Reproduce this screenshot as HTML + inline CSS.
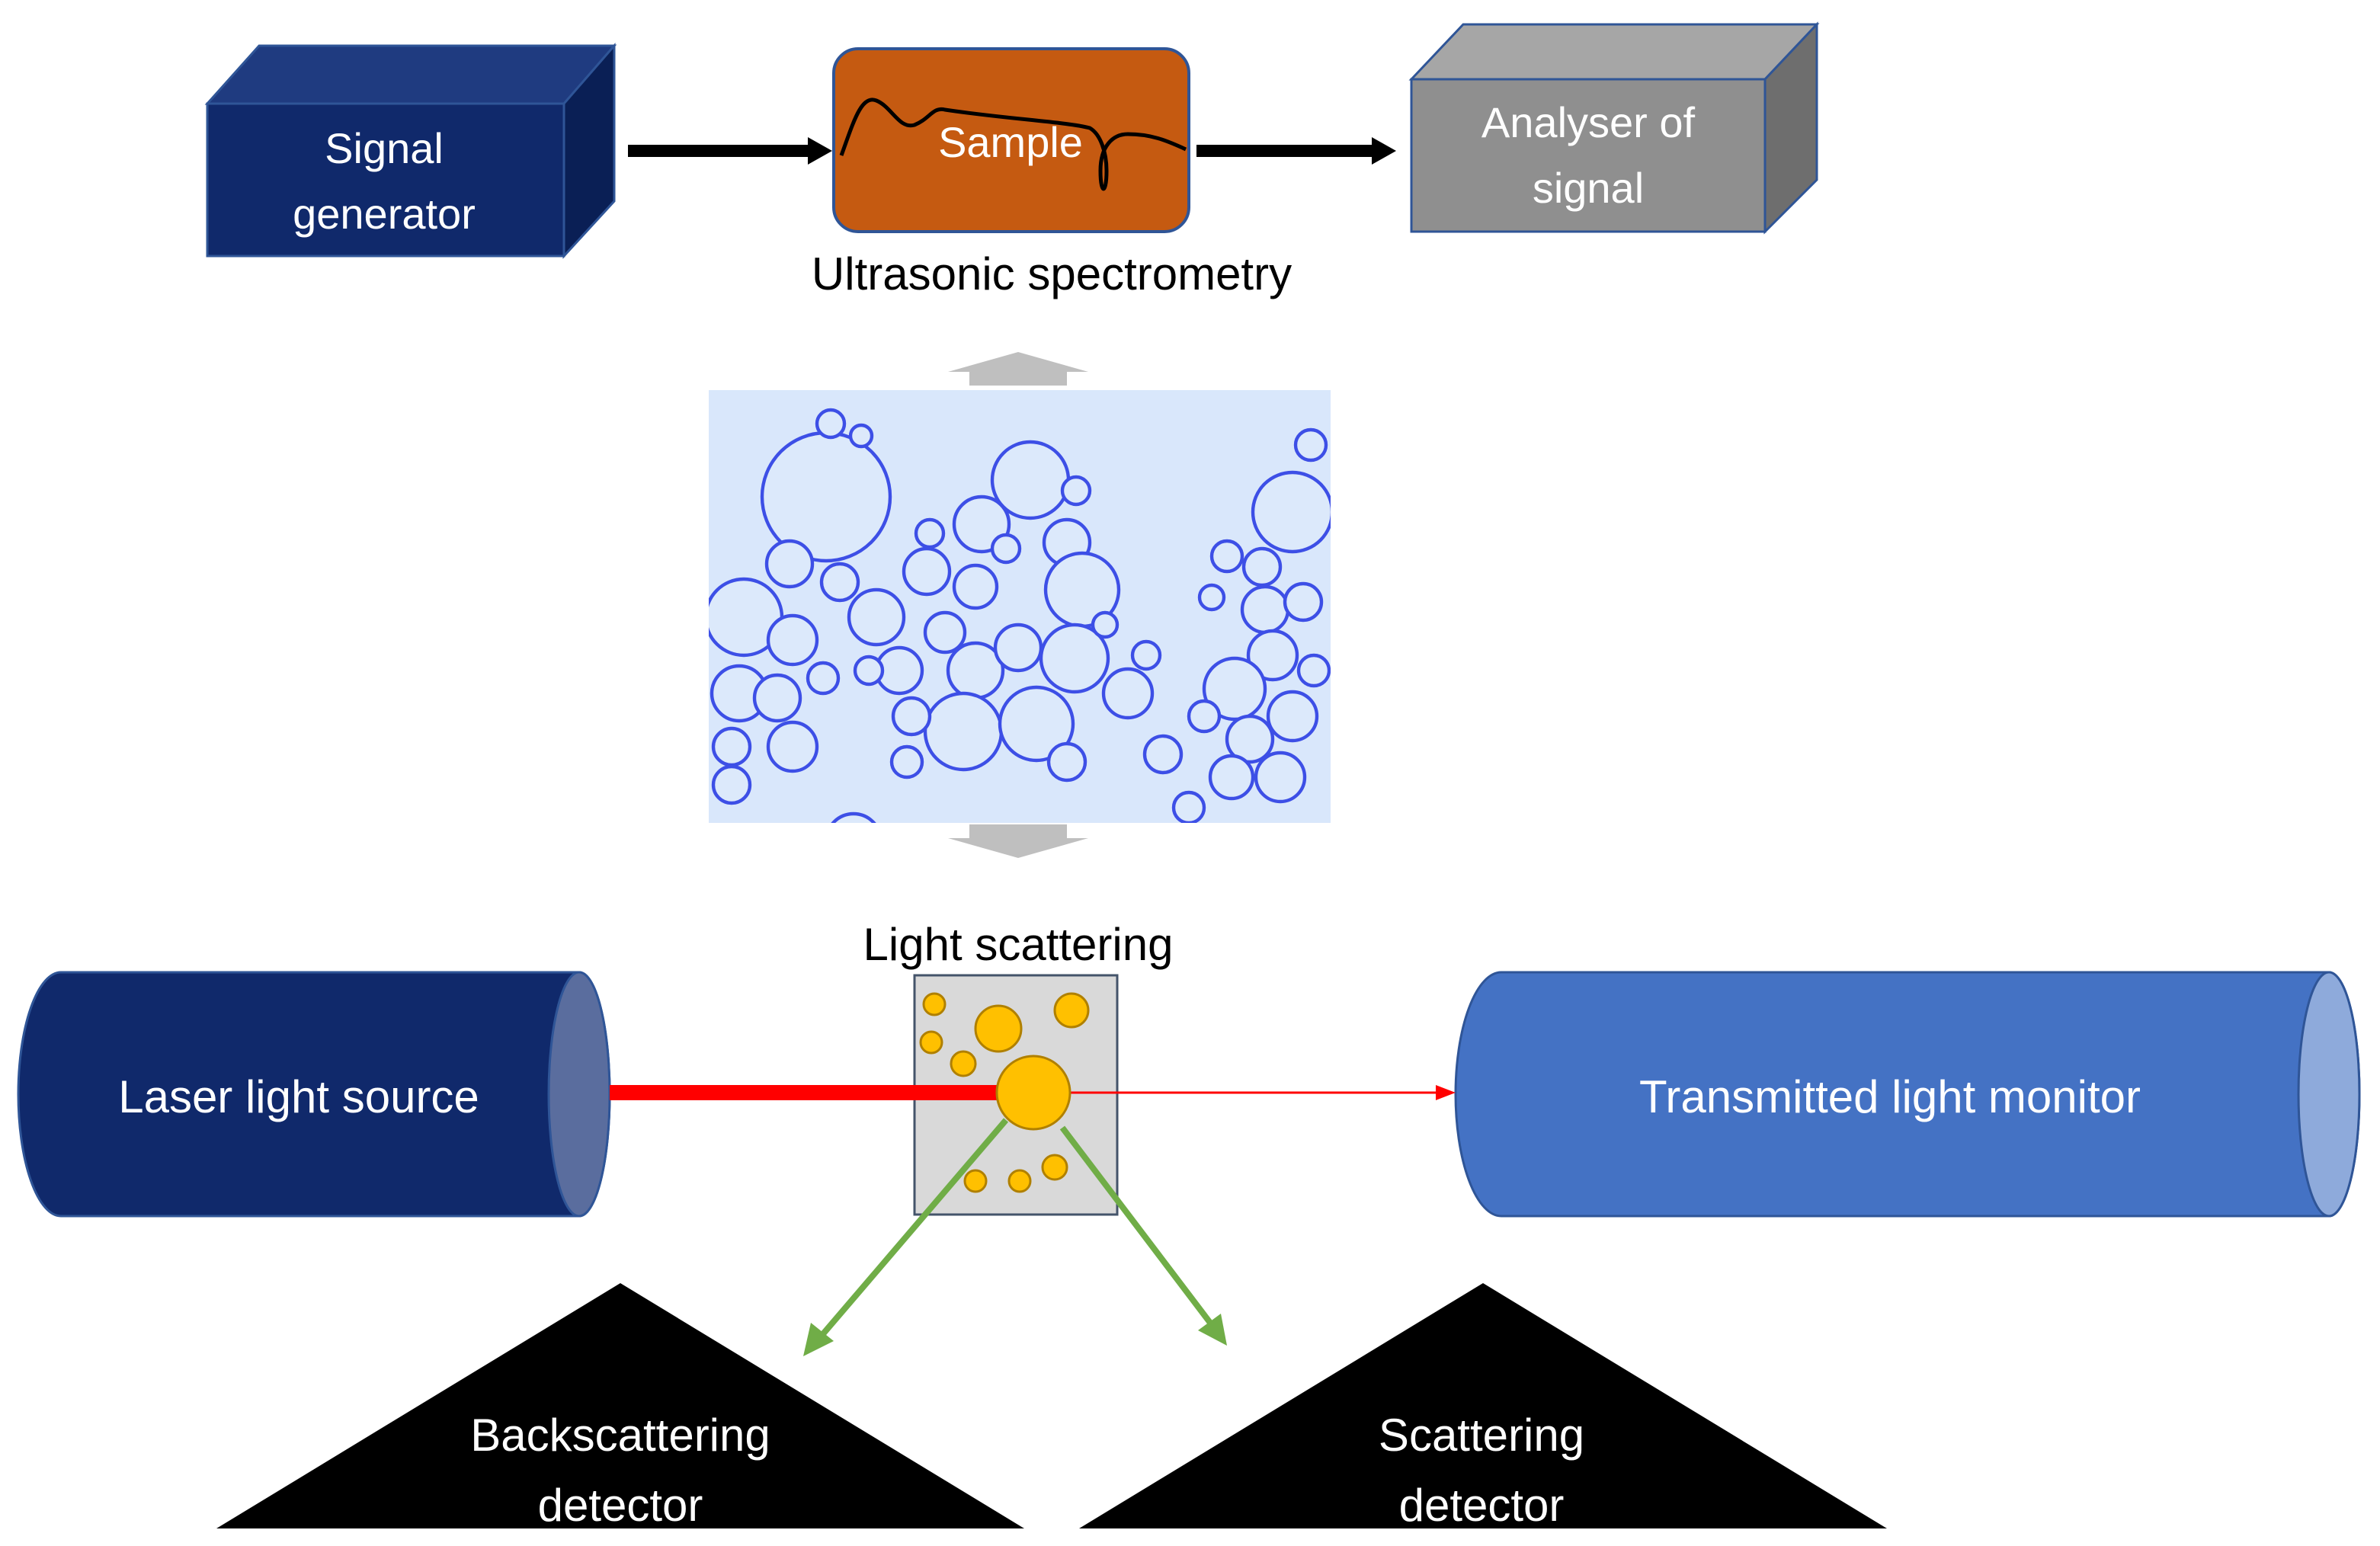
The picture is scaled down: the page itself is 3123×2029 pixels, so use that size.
<!DOCTYPE html>
<html><head><meta charset="utf-8"><style>
html,body{margin:0;padding:0;background:#fff;width:3123px;height:2029px;overflow:hidden}
svg{display:block}
text{font-family:"Liberation Sans",sans-serif}
</style></head><body>
<svg width="3123" height="2029" viewBox="0 0 1561.5 1014.5" xmlns="http://www.w3.org/2000/svg">
<defs>
<clipPath id="img"><rect x="465" y="256" width="408" height="284"/></clipPath>
</defs>
<polygon points="136,68 170,30 403,30 370,68" fill="#1f3b80" stroke="#2f5597" stroke-width="1.5"/>
<polygon points="370,68 403,30 403,132 370,168" fill="#0a1f55" stroke="#2f5597" stroke-width="1.5"/>
<rect x="136" y="68" width="234" height="100" fill="#10296b" stroke="#2f5597" stroke-width="1.5"/>
<text x="252" y="107" font-size="28" fill="#fff" text-anchor="middle">Signal</text>
<text x="252" y="150" font-size="28" fill="#fff" text-anchor="middle">generator</text>
<line x1="412" y1="99" x2="533" y2="99" stroke="#000" stroke-width="8"/>
<polygon points="530,90 546,99 530,108" fill="#000"/>
<line x1="785" y1="99" x2="903" y2="99" stroke="#000" stroke-width="8"/>
<polygon points="900,90 916,99 900,108" fill="#000"/>
<rect x="547" y="32" width="233" height="120" rx="16" fill="#c55a11" stroke="#2f5597" stroke-width="2"/>
<path d="M552,102 C560,80 565,62 575,66 C585,70 590,85 600,82 C610,78 612,70 620,72 C660,78 700,80 715,84 C722,88 726,100 726,112 C726,128 722,128 722,112 C722,96 730,88 740,88 C755,88 765,92 778,98" fill="none" stroke="#000" stroke-width="2.5"/>
<text x="663" y="103" font-size="28" fill="#fff" text-anchor="middle">Sample</text>
<polygon points="926,52 960,16 1192,16 1158,52" fill="#a6a6a6" stroke="#2f5597" stroke-width="1.5"/>
<polygon points="1158,52 1192,16 1192,118 1158,152" fill="#6e6e6e" stroke="#2f5597" stroke-width="1.5"/>
<rect x="926" y="52" width="232" height="100" fill="#8f8f8f" stroke="#2f5597" stroke-width="1.5"/>
<text x="1042" y="90" font-size="28" fill="#fff" text-anchor="middle">Analyser of</text>
<text x="1042" y="133" font-size="28" fill="#fff" text-anchor="middle">signal</text>
<text x="690" y="190" font-size="30" fill="#000" text-anchor="middle">Ultrasonic spectrometry</text>
<polygon points="622,244 668,231 714,244 700,244 700,253 636,253 636,244" fill="#bfbfbf"/>
<polygon points="622,550 668,563 714,550 700,550 700,541 636,541 636,550" fill="#bfbfbf"/>
<rect x="465" y="256" width="408" height="284" fill="#d9e7fb"/>
<g fill="#dce9fb" stroke="#3d4fe6" stroke-width="2.2" clip-path="url(#img)">
<circle cx="542" cy="326" r="42"/>
<circle cx="676" cy="315" r="25"/>
<circle cx="644" cy="344" r="18"/>
<circle cx="488" cy="405" r="25"/>
<circle cx="518" cy="370" r="15"/>
<circle cx="520" cy="420" r="16"/>
<circle cx="575" cy="405" r="18"/>
<circle cx="551" cy="382" r="12"/>
<circle cx="608" cy="375" r="15"/>
<circle cx="640" cy="385" r="14"/>
<circle cx="700" cy="356" r="15"/>
<circle cx="710" cy="387" r="24"/>
<circle cx="590" cy="440" r="15"/>
<circle cx="620" cy="415" r="13"/>
<circle cx="640" cy="440" r="18"/>
<circle cx="668" cy="425" r="15"/>
<circle cx="705" cy="432" r="22"/>
<circle cx="740" cy="455" r="16"/>
<circle cx="485" cy="455" r="18"/>
<circle cx="510" cy="458" r="15"/>
<circle cx="480" cy="490" r="12"/>
<circle cx="520" cy="490" r="16"/>
<circle cx="480" cy="515" r="12"/>
<circle cx="632" cy="480" r="25"/>
<circle cx="680" cy="475" r="24"/>
<circle cx="598" cy="470" r="12"/>
<circle cx="595" cy="500" r="10"/>
<circle cx="700" cy="500" r="12"/>
<circle cx="560" cy="552" r="18"/>
<circle cx="848" cy="336" r="26"/>
<circle cx="828" cy="372" r="12"/>
<circle cx="805" cy="365" r="10"/>
<circle cx="830" cy="400" r="15"/>
<circle cx="855" cy="395" r="12"/>
<circle cx="835" cy="430" r="16"/>
<circle cx="810" cy="452" r="20"/>
<circle cx="848" cy="470" r="16"/>
<circle cx="820" cy="485" r="15"/>
<circle cx="790" cy="470" r="10"/>
<circle cx="763" cy="495" r="12"/>
<circle cx="808" cy="510" r="14"/>
<circle cx="840" cy="510" r="16"/>
<circle cx="780" cy="530" r="10"/>
<circle cx="862" cy="440" r="10"/>
<circle cx="795" cy="392" r="8"/>
<circle cx="570" cy="440" r="9"/>
<circle cx="540" cy="445" r="10"/>
<circle cx="660" cy="360" r="9"/>
<circle cx="725" cy="410" r="8"/>
<circle cx="752" cy="430" r="9"/>
<circle cx="545" cy="278" r="9"/>
<circle cx="565" cy="286" r="7"/>
<circle cx="610" cy="350" r="9"/>
<circle cx="706" cy="322" r="9"/>
<circle cx="860" cy="292" r="10"/>
</g>
<text x="668" y="630" font-size="30" fill="#000" text-anchor="middle">Light scattering</text>
<path d="M40,638 L380,638 A20,80 0 0 1 380,798 L40,798 A28,80 0 0 1 40,638 Z" fill="#10296b" stroke="#2f5597" stroke-width="1.5"/>
<ellipse cx="380" cy="718" rx="20" ry="80" fill="#5a6d9e" stroke="#2f5597" stroke-width="1.5"/>
<text x="196" y="730" font-size="30" fill="#fff" text-anchor="middle">Laser light source</text>
<path d="M985,638 L1528,638 A20,80 0 0 1 1528,798 L985,798 A30,80 0 0 1 985,638 Z" fill="#4472c4" stroke="#2f5597" stroke-width="1.5"/>
<ellipse cx="1528" cy="718" rx="20" ry="80" fill="#8eaadb" stroke="#2f5597" stroke-width="1.5"/>
<text x="1240" y="730" font-size="30" fill="#fff" text-anchor="middle">Transmitted light monitor</text>
<rect x="600" y="640" width="133" height="157" fill="#d9d9d9" stroke="#44546a" stroke-width="1.5"/>
<line x1="400" y1="717" x2="658" y2="717" stroke="#ff0000" stroke-width="10"/>
<line x1="700" y1="717" x2="944" y2="717" stroke="#ff0000" stroke-width="1.5"/>
<polygon points="942,712 955,717 942,722" fill="#ff0000"/>
<g fill="#ffc000" stroke="#b08000" stroke-width="1.5">
<circle cx="613" cy="659" r="7"/>
<circle cx="655" cy="675" r="15"/>
<circle cx="703" cy="663" r="11"/>
<circle cx="611" cy="684" r="7"/>
<circle cx="632" cy="698" r="8"/>
<circle cx="678" cy="717" r="24"/>
<circle cx="640" cy="775" r="7"/>
<circle cx="669" cy="775" r="7"/>
<circle cx="692" cy="766" r="8"/>
</g>
<line x1="660" y1="735" x2="536" y2="880" stroke="#70ad47" stroke-width="4"/>
<polygon points="527,890 532,868 547,880" fill="#70ad47"/>
<line x1="697" y1="740" x2="797" y2="872" stroke="#70ad47" stroke-width="4"/>
<polygon points="805,883 786,873 801,862" fill="#70ad47"/>
<polygon points="407,842 672,1003 142,1003" fill="#000"/>
<polygon points="973,842 1238,1003 708,1003" fill="#000"/>
<text x="407" y="952" font-size="30" fill="#fff" text-anchor="middle">Backscattering</text>
<text x="407" y="998" font-size="30" fill="#fff" text-anchor="middle">detector</text>
<text x="972" y="952" font-size="30" fill="#fff" text-anchor="middle">Scattering</text>
<text x="972" y="998" font-size="30" fill="#fff" text-anchor="middle">detector</text>
</svg>
</body></html>
